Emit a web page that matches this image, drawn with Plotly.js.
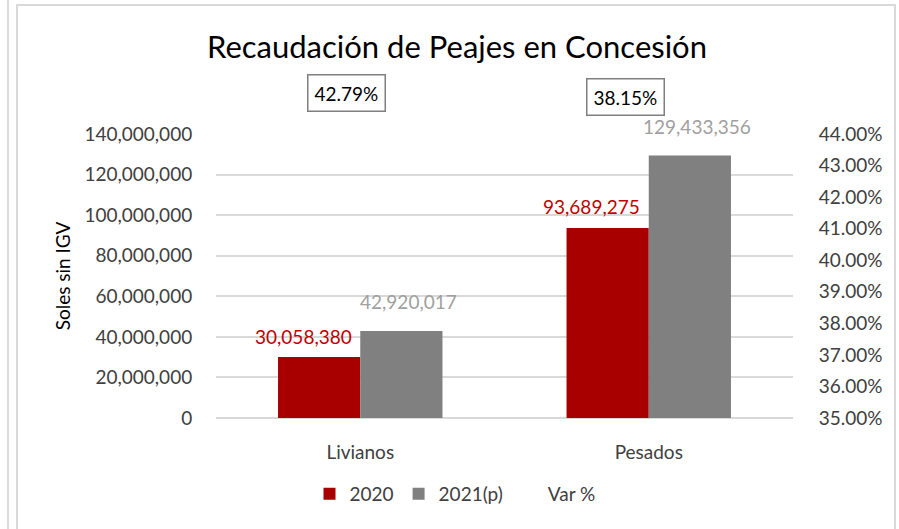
<!DOCTYPE html>
<html>
<head>
<meta charset="utf-8">
<script src="https://cdn.plot.ly/plotly-3.0.1.min.js"></script>
<style>
  html, body { margin: 0; padding: 0; background: #fff; }
  #chart { width: 899px; height: 529px; }
</style>
</head>
<body>
<div id="chart"></div>
<script>
// categories and series
var categories = ["Livianos", "Pesados"];
var values2020 = [30058380, 93689275];
var values2021 = [42920017, 129433356];
var varPct = [0.4279, 0.3815];
var seriesNames = ["2020", "2021(p)", "Var %"];

var FONT = "Lato, 'Open Sans', sans-serif";
var RED = "#a80000";
var GRAY = "#808080";

// plot area in pixels, used to turn pixel spots into paper coords
var plotL = 216, plotR = 793, plotT = 134, plotB = 418;
function px(x) { return (x - plotL) / (plotR - plotL); }
function py(y) { return (plotB - y) / (plotB - plotT); }

function fmt(v) {
    return v.toLocaleString("en-US");
}

var data = [
    {
        type: "bar",
        name: seriesNames[0],
        x: categories,
        y: values2020,
        marker: { color: RED },
        hoverinfo: "skip"
    },
    {
        type: "bar",
        name: seriesNames[1],
        x: categories,
        y: values2021,
        marker: { color: GRAY },
        hoverinfo: "skip"
    },
    {
        type: "scatter",
        name: seriesNames[2],
        x: categories,
        y: varPct,
        yaxis: "y2",
        mode: "lines",
        line: { width: 0, color: "rgba(0,0,0,0)" },
        hoverinfo: "skip"
    }
];

var annotations = [];
// value labels above the bars
categories.forEach(function (c, i) {
    annotations.push({
        x: c, y: values2020[i], xref: "x", yref: "y",
        text: fmt(values2020[i]), showarrow: false,
        xshift: -57, yshift: 21,
        font: { family: FONT, size: 19, color: "#c00000" }
    });
    annotations.push({
        x: c, y: values2021[i], xref: "x", yref: "y",
        text: fmt(values2021[i]), showarrow: false,
        xshift: 48, yshift: 29,
        font: { family: FONT, size: 19, color: "#a0a0a0" }
    });
});
// Var % boxes sitting above the plot
var varBoxY = [93, 97];
var varBoxShift = [-14, -23];
categories.forEach(function (c, i) {
    annotations.push({
        x: c, xref: "x", y: py(varBoxY[i]), yref: "paper",
        yanchor: "middle", xanchor: "center",
        text: (varPct[i] * 100).toFixed(2) + "%", showarrow: false,
        xshift: varBoxShift[i],
        bordercolor: "#7f7f7f", borderwidth: 1.5, borderpad: 6,
        bgcolor: "rgba(255,255,255,0)",
        font: { family: FONT, size: 19, color: "#000" }
    });
});

var layout = {
    width: 899,
    height: 529,
    margin: { l: plotL, r: 899 - plotR, t: plotT, b: 529 - plotB },
    paper_bgcolor: "#fff",
    plot_bgcolor: "#fff",
    font: { family: FONT, size: 19, color: "#404040" },
    title: {
        text: "Recaudación de Peajes en Concesión",
        font: { family: FONT, size: 31, color: "#000" },
        x: 457 / 899, xanchor: "center",
        y: 1 - 47 / 529, yanchor: "middle"
    },
    barmode: "group",
    bargap: 0.43,
    bargroupgap: 0,
    showlegend: true,
    legend: {
        orientation: "h",
        x: px(455), xanchor: "center",
        y: py(494), yanchor: "middle",
        font: { family: FONT, size: 19, color: "#404040" },
        itemwidth: 30,
        traceorder: "normal"
    },
    xaxis: {
        type: "category",
        showgrid: false,
        zeroline: false,
        showline: false,
        ticks: "outside",
        ticklen: 17,
        tickcolor: "rgba(0,0,0,0)",
        tickfont: { family: FONT, size: 19, color: "#404040" }
    },
    yaxis: {
        range: [0, 140000000],
        dtick: 20000000,
        tickformat: ",.0f",
        showgrid: true,
        gridcolor: "#d9d9d9",
        gridwidth: 2,
        zeroline: true,
        zerolinecolor: "#d9d9d9",
        zerolinewidth: 2,
        showline: false,
        ticks: "outside",
        ticklen: 19,
        tickcolor: "rgba(0,0,0,0)",
        tickfont: { family: FONT, size: 19, color: "#404040" },
        title: {
            text: "Soles sin IGV",
            standoff: 8,
            font: { family: FONT, size: 19, color: "#000" }
        }
    },
    yaxis2: {
        overlaying: "y",
        side: "right",
        range: [0.35, 0.44],
        dtick: 0.01,
        tickformat: ".2%",
        showgrid: false,
        zeroline: false,
        showline: false,
        ticks: "outside",
        ticklen: 21,
        tickcolor: "rgba(0,0,0,0)",
        tickfont: { family: FONT, size: 19, color: "#404040" }
    },
    annotations: annotations,
    shapes: [
        {
            type: "rect", xref: "paper", yref: "paper",
            x0: px(17), x1: px(895), y0: py(540), y1: py(5),
            line: { color: "#d9d9d9", width: 2 }, fillcolor: "rgba(0,0,0,0)",
            layer: "below"
        },
        {
            type: "line", xref: "paper", yref: "paper",
            x0: px(8), x1: px(8), y0: py(540), y1: py(-5),
            line: { color: "#d9d9d9", width: 2 }
        }
    ]
};

Plotly.newPlot("chart", data, layout, { displayModeBar: false, staticPlot: true });
</script>
</body>
</html>
